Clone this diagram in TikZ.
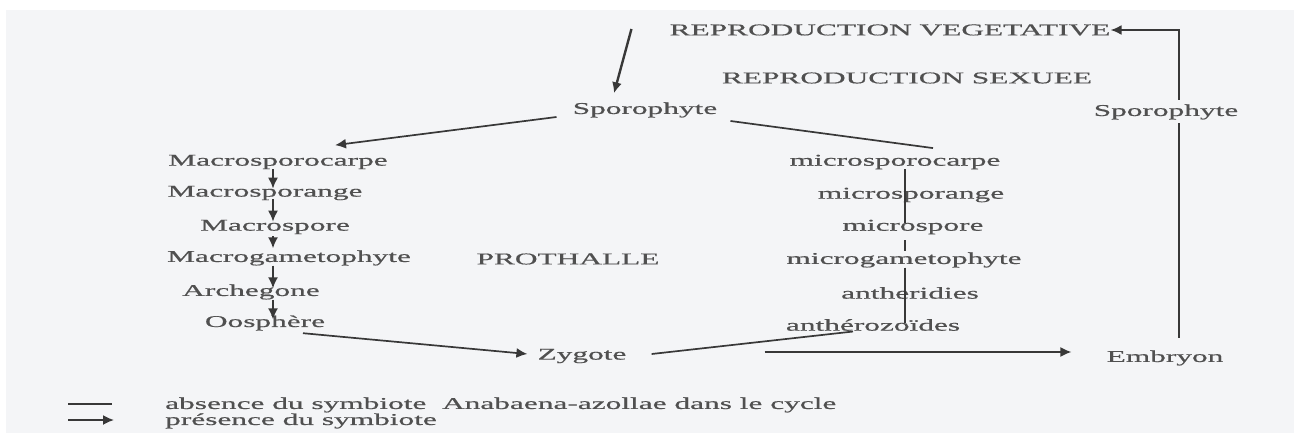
\documentclass[tikz,border=0pt]{standalone}
\usepackage{fontspec}
\setmainfont[FakeStretch=1.9,FakeBold=0.6]{Liberation Serif}
\usetikzlibrary{arrows.meta,calc}
\definecolor{bgc}{HTML}{F4F5F7}
\definecolor{txtc}{HTML}{505050}
\definecolor{linec}{HTML}{383838}
\tikzset{
  txt/.style={inner sep=0pt, text=txtc, font=\fontsize{16.5}{18}\selectfont},
  ln/.style={draw=linec, line width=1.7pt},
  arr/.style={ln, -{Latex[length=11pt,width=10pt]}},
}
\begin{document}
\begin{tikzpicture}[x=1pt,y=-1pt]
\useasboundingbox (0,0) rectangle (1294,433);
\fill[bgc] (6,10) rectangle (1294,433);

% titles
\node[txt] (rv) at (890,30) {REPRODUCTION VEGETATIVE};
\node[txt] (rs) at (907,78) {REPRODUCTION SEXUEE};
\node[txt] (spo) at (645,110) {Sporophyte};
\node[txt] (spo2) at (1166,112) {Sporophyte};
\node[txt] (proth) at (568,259) {PROTHALLE};

% left column
\node[txt] (Mcarpe) at (278,162) {Macrosporocarpe};
\node[txt] (Msporange) at (265,193) {Macrosporange};
\node[txt] (Mspore) at (275,227) {Macrospore};
\node[txt] (Mgam) at (289,258) {Macrogametophyte};
\node[txt] (Arch) at (251,292) {Archegone};
\node[txt] (Oos) at (265,323) {Oosphère};

% right column
\node[txt] (micarpe) at (895,162) {microsporocarpe};
\node[txt] (misporange) at (911,195) {microsporange};
\node[txt] (mispore) at (913,227) {microspore};
\node[txt] (migam) at (904,260) {microgametophyte};
\node[txt] (anth) at (910,293) {antheridies};
\node[txt] (antz) at (873,325) {anthérozoïdes};

\node[txt] (zyg) at (582,356) {Zygote};
\node[txt] (emb) at (1165,358) {Embryon};

% legend
\node[txt, anchor=west] (leg1) at (165,405) {absence du symbiote~~Anabaena-azollae dans le cycle};
\node[txt, anchor=west] (leg2) at (165,421) {présence du symbiote};

\coordinate (Mspine) at (273,0);
\coordinate (mspine) at (905,0);

% connectors
\draw[arr, line width=2.4pt] ([shift={(-38,-1)}]rv.west) -- ([shift={(-31,-9)}]spo.north);
\draw[arr, line width=2pt] ([shift={(13,-4.5)}]spo2.north) |- (rv.east);
\draw[ln, line width=2pt] ([shift={(13,3.5)}]spo2.south) -- ([shift={(14,-12.5)}]emb.north);

\draw[arr] ([shift={(-16,7)}]spo.west) -- ([shift={(57,-9.5)}]Mcarpe.north);
\draw[ln] ([shift={(13,11)}]spo.east) -- ([shift={(38,-6.5)}]micarpe.north);

\draw[arr] (Mcarpe.south -| Mspine) -- ($(Msporange.north -| Mspine)+(0,3)$);
\draw[arr] ($(Msporange.south -| Mspine)+(0,-1)$) -- ($(Mspore.north -| Mspine)+(0,2)$);
\draw[arr] ($(Mspore.south -| Mspine)+(0,2)$) -- ($(Mgam.north -| Mspine)+(0,-2)$);
\draw[arr] (Mgam.south -| Mspine) -- ($(Arch.north -| Mspine)+(0,4)$);
\draw[arr] (Arch.south -| Mspine) -- ($(Oos.north -| Mspine)+(0,4)$);

\draw[ln] (micarpe.south -| mspine) -- ($(mispore.north -| mspine)+(0,3)$);
\draw[ln] ($(mispore.south -| mspine)+(0,6)$) -- ($(migam.north -| mspine)+(0,-1)$);
\draw[ln] (migam.south -| mspine) -- ($(antz.north -| mspine)+(0,4)$);

\draw[arr] ([shift={(38,2.5)}]Oos.south) -- ([shift={(-10,-2)}]zyg.west);
\draw[ln] ([shift={(25,-2)}]zyg.east) -- ([shift={(-20,0.5)}]antz.south);
\draw[arr] ([shift={(138,-4)}]zyg.east) -- ([shift={(-35,-6)}]emb.west);

% legend symbols
\draw[ln] ([shift={(-97,-1)}]leg1.west) -- ([shift={(-53,-1)}]leg1.west);
\draw[arr] ([shift={(-97,-1)}]leg2.west) -- ([shift={(-51,-1)}]leg2.west);
\end{tikzpicture}
\end{document}
